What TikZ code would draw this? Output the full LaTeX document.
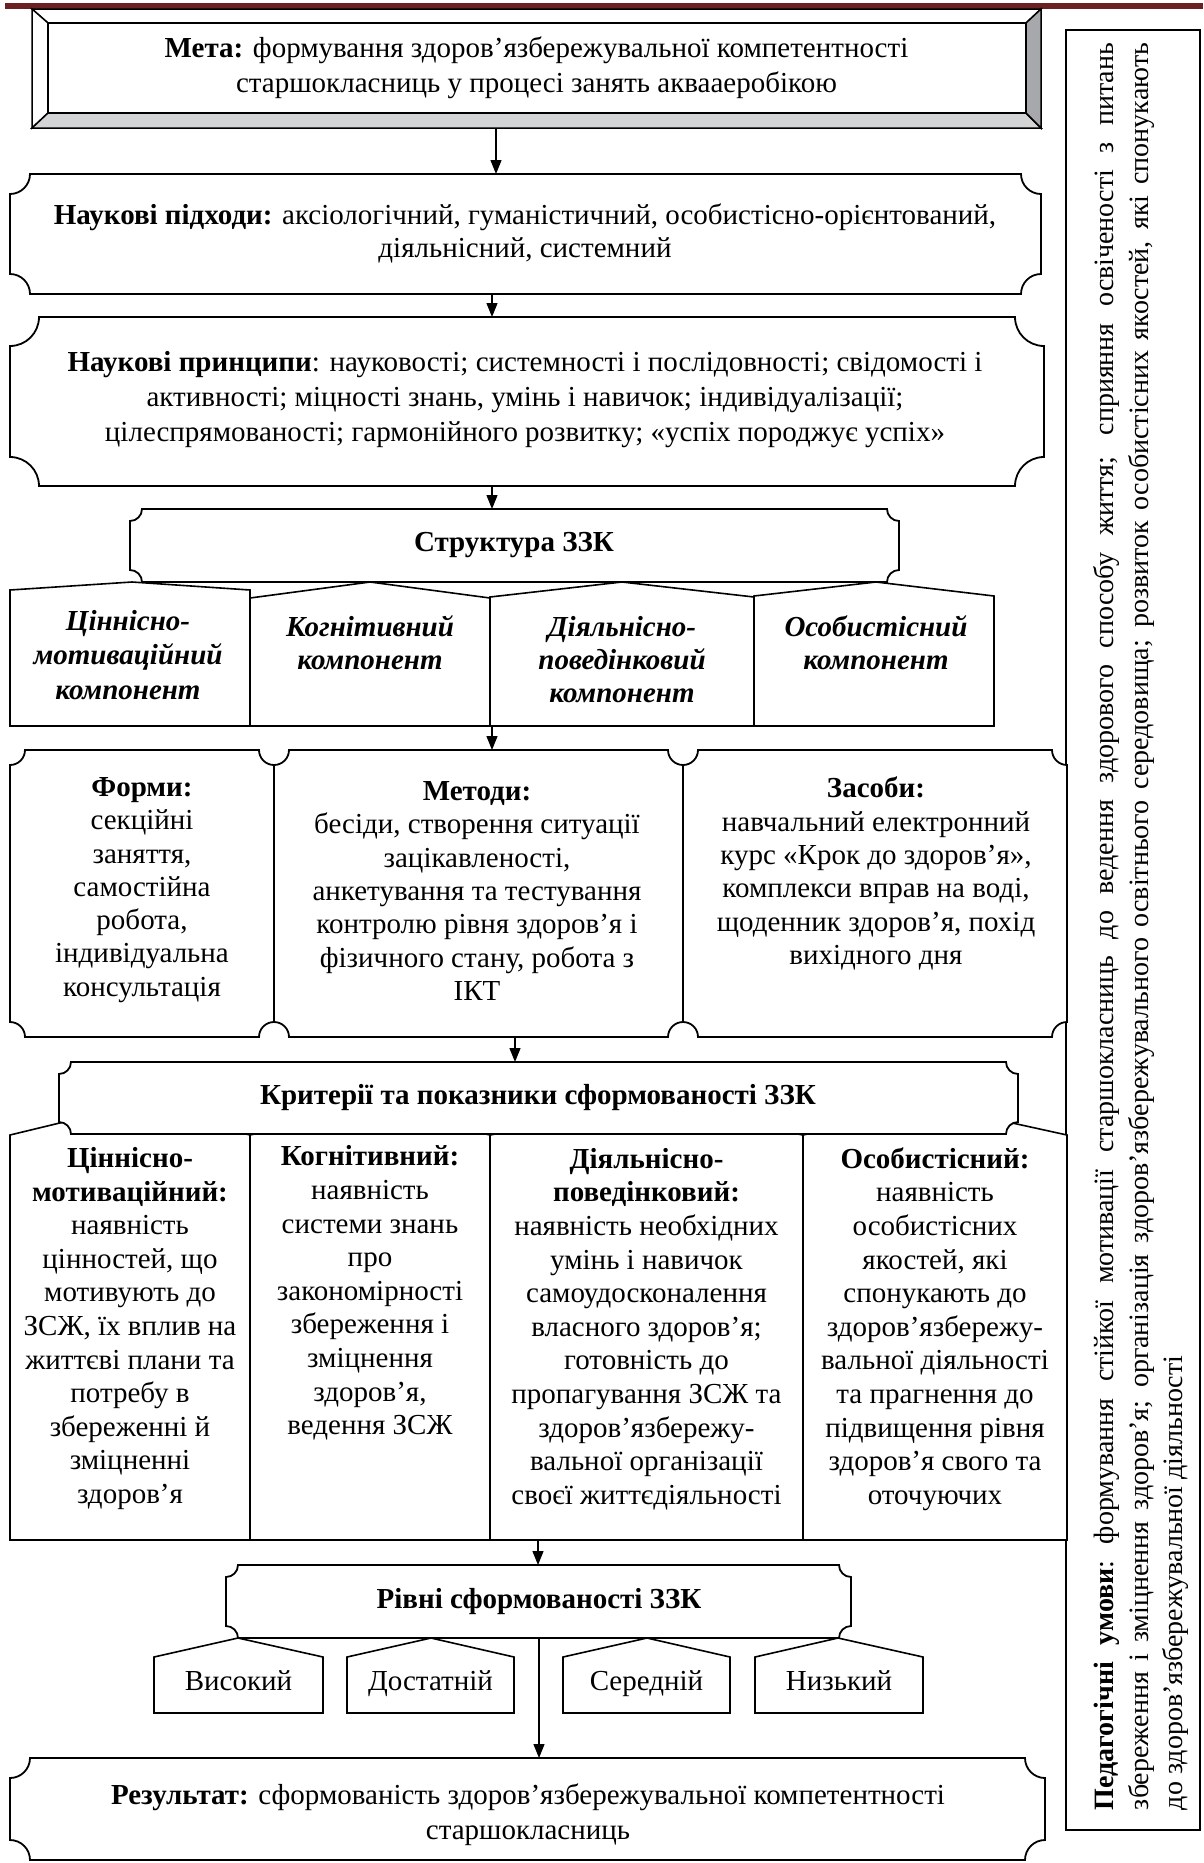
\documentclass[tikz,border=0pt]{standalone}
\usepackage{fontspec}
\setmainfont{Liberation Serif}
\usetikzlibrary{arrows.meta}
\definecolor{barred}{HTML}{6B2022}
\definecolor{bevB}{HTML}{D3D4D6}
\definecolor{bevR}{HTML}{A7A8AB}
\newcommand{\myfs}[1]{\fontsize{29bp}{#1bp}\selectfont}
\newcommand{\panfs}{\fontsize{28bp}{34.5bp}\selectfont}
\newcommand{\jline}[1]{\hbox to 1767bp{\spaceskip=0.25em plus 1fil\relax\xspaceskip=0.25em plus 1fil\relax #1}}
\tikzset{
  box/.style={draw=black, line width=1.8bp, fill=white, line join=miter},
  pentbox/.style={draw=black, line width=1.6bp, fill=white, line join=miter},
  arr/.style={line width=1.3bp, -{Triangle[length=14bp,width=11bp]}},
  txt/.style={align=center, inner sep=0pt},
  geom/.style={inner sep=0pt, outer sep=0pt},
}
% plaque: name x1 y1 x2 y2 r
\newcommand{\plaque}[6]{%
  \draw[box] ({#2+#6},#3) -- ({#4-#6},#3)
    .. controls ({#4-#6},{#3+0.5523*#6}) and ({#4-0.5523*#6},{#3+#6}) .. (#4,{#3+#6})
    -- (#4,{#5-#6})
    .. controls ({#4-0.5523*#6},{#5-#6}) and ({#4-#6},{#5-0.5523*#6}) .. ({#4-#6},#5)
    -- ({#2+#6},#5)
    .. controls ({#2+#6},{#5-0.5523*#6}) and ({#2+0.5523*#6},{#5-#6}) .. (#2,{#5-#6})
    -- (#2,{#3+#6})
    .. controls ({#2+0.5523*#6},{#3+#6}) and ({#2+#6},{#3+0.5523*#6}) .. cycle;
  \node[geom, minimum width={(#4-#2)*1bp}, minimum height={(#5-#3)*1bp}] (#1) at ({(#2+#4)/2},{(#3+#5)/2}) {};
}
% pentagon: name x1 x2 yshoulder ypeak xpeak ybottom
\newcommand{\pent}[7]{%
  \draw[pentbox] (#2,#7) -- (#2,#4) -- (#6,#5) -- (#3,#4) -- (#3,#7) -- cycle;
  \node[geom, minimum width={(#3-#2)*1bp}, minimum height={(#7-#4)*1bp}] (#1) at ({(#2+#3)/2},{(#4+#7)/2}) {};
}
\begin{document}
\begin{tikzpicture}[x=1bp,y=-1bp]
\useasboundingbox (0,0) rectangle (1203,1863);
\fill[white] (0,0) rectangle (1203,1863);
% top bar
\fill[barred] (5,3) rectangle (1203,9);

% ---- Meta (bevel)
\begin{scope}[line width=1.5bp, line join=miter]
\filldraw[fill=white] (32,9) -- (1041,9) -- (1026,23) -- (48,23) -- cycle;
\filldraw[fill=white] (32,9) -- (48,23) -- (48,113) -- (32,128) -- cycle;
\filldraw[fill=bevB] (32,128) -- (48,113) -- (1026,113) -- (1041,128) -- cycle;
\filldraw[fill=bevR] (1041,9) -- (1026,23) -- (1026,113) -- (1041,128) -- cycle;
\draw[fill=white] (48,23) rectangle (1026,113);
\end{scope}
\node[geom, minimum width=1009bp, minimum height=119bp] (meta) at (536.5,68.5) {};
\node[txt, font=\myfs{35}] (metat) at (536.5,67.5)
  {\textbf{Мета:} формування здоров’язбережувальної компетентності\\старшокласниць у процесі занять аквааеробікою};

% ---- right panel
\draw[line width=1.8bp] (1066,30) rectangle (1200,1830);
\node[geom, minimum width=134bp, minimum height=1800bp] (panel) at (1133,930) {};
\node[inner sep=0pt, rotate=90, font=\panfs] (cond) at (1141,926.5)
  {\vbox{\jline{\textbf{Педагогічні умови}: формування стійкої мотивації старшокласниць до ведення здорового способу життя; сприяння освіченості з питань}%
   \jline{збереження і зміцнення здоров’я; організація здоров’язбережувального освітнього середовища; розвиток особистісних якостей, які спонукають}%
   \hbox to 1767bp{до здоров’язбережувальної діяльності\hfil}}};

% ---- approaches
\plaque{pidkh}{10}{174}{1041}{294}{20}
\node[txt, font=\myfs{33.3}] (pidkht) at (525,233.5)
  {\textbf{Наукові підходи:} аксіологічний, гуманістичний, особистісно-орієнтований,\\діяльнісний, системний};

% ---- principles
\plaque{princ}{10}{317}{1044}{486}{29}
\node[txt, font=\myfs{35}] (princt) at (525,400)
  {\textbf{Наукові принципи}: науковості; системності і послідовності; свідомості і\\активності; міцності знань, умінь і навичок; індивідуалізації;\\цілеспрямованості; гармонійного розвитку; «успіх породжує успіх»};

% ---- structure components
\pent{c1}{10}{250}{590}{582}{132}{726}
\pent{c2}{250}{490}{598}{582}{370}{726}
\pent{c3}{490}{754}{597}{582}{622}{726}
\pent{c4}{754}{994}{596}{582}{876}{726}
\plaque{struct}{130}{509}{899}{582}{12}
\node[txt, font=\myfs{34}] (structt) at (514,545) {\textbf{Структура ЗЗК}};
\node[txt, font={\myfs{34.5}\bfseries\itshape}] (c1t) at (128,655) {Ціннісно-\\мотиваційний\\компонент};
\node[txt, font={\myfs{33}\bfseries\itshape}] (c2t) at (370,642.5) {Когнітивний\\компонент};
\node[txt, font={\myfs{33}\bfseries\itshape}] (c3t) at (622,660) {Діяльнісно-\\поведінковий\\компонент};
\node[txt, font={\myfs{33}\bfseries\itshape}] (c4t) at (876,642.5) {Особистісний\\компонент};

% ---- forms / methods / means
\plaque{formy}{10}{750}{274}{1037}{15}
\plaque{metody}{274}{750}{683}{1037}{15}
\plaque{zasoby}{683}{750}{1067}{1037}{15}
\node[txt, font=\myfs{33.3}] (formyt) at (142,890)
  {\textbf{Форми:}\\секційні\\заняття,\\самостійна\\робота,\\індивідуальна\\консультація};
\node[txt, font=\myfs{33.3}] (metodyt) at (477,891)
  {\textbf{Методи:}\\бесіди, створення ситуації\\зацікавленості,\\анкетування та тестування\\контролю рівня здоров’я і\\фізичного стану, робота з\\ІКТ};
\node[txt, font=\myfs{33.3}] (zasobyt) at (876,873.5)
  {\textbf{Засоби:}\\навчальний електронний\\курс «Крок до здоров’я»,\\комплекси вправ на воді,\\щоденник здоров’я, похід\\вихідного дня};

% ---- criteria columns
\pent{k1}{10}{250}{1135}{1106}{130}{1540}
\pent{k2}{250}{490}{1135}{1108}{370}{1540}
\pent{k3}{490}{803}{1135}{1106}{646}{1540}
\pent{k4}{803}{1067}{1135}{1106}{935}{1540}
\plaque{crit}{59}{1062}{1018}{1134}{12}
\node[txt, font=\myfs{34}] (critt) at (538,1098) {\textbf{Критерії та показники сформованості ЗЗК}};
\node[txt, font=\myfs{33.6}] (k1t) at (130,1328.5)
  {\textbf{Ціннісно-}\\\textbf{мотиваційний:}\\наявність\\цінностей, що\\мотивують до\\ЗСЖ, їх вплив на\\життєві плани та\\потребу в\\збереженні й\\зміцненні\\здоров’я};
\node[txt, font=\myfs{33.6}] (k2t) at (370,1293)
  {\textbf{Когнітивний:}\\наявність\\системи знань\\про\\закономірності\\збереження і\\зміцнення\\здоров’я,\\ведення ЗСЖ};
\node[txt, font=\myfs{33.6}] (k3t) at (646.5,1329)
  {\textbf{Діяльнісно-}\\\textbf{поведінковий:}\\наявність необхідних\\умінь і навичок\\самоудосконалення\\власного здоров’я;\\готовність до\\пропагування ЗСЖ та\\здоров’язбережу-\\вальної організації\\своєї життєдіяльності};
\node[txt, font=\myfs{33.6}] (k4t) at (935,1329)
  {\textbf{Особистісний:}\\наявність\\особистісних\\якостей, які\\спонукають до\\здоров’язбережу-\\вальної діяльності\\та прагнення до\\підвищення рівня\\здоров’я свого та\\оточуючих};

% ---- levels
\pent{l1}{154}{323}{1657}{1638}{238}{1713}
\pent{l2}{347}{514}{1657}{1638}{431}{1713}
\pent{l3}{563}{730}{1657}{1638}{647}{1713}
\pent{l4}{755}{923}{1657}{1638}{838}{1713}
\plaque{rivni}{226}{1565}{851}{1638}{12}
\node[txt, font=\myfs{34}] (rivnit) at (539,1602) {\textbf{Рівні сформованості ЗЗК}};
\node[txt, font=\myfs{34}, anchor=base] (l1t) at (238.5,1690) {Високий};
\node[txt, font=\myfs{34}, anchor=base] (l2t) at (430.5,1690) {Достатній};
\node[txt, font=\myfs{34}, anchor=base] (l3t) at (646.5,1690) {Середній};
\node[txt, font=\myfs{34}, anchor=base] (l4t) at (839,1690) {Низький};

% ---- result
\plaque{result}{10}{1758}{1045}{1860}{20}
\node[txt, font=\myfs{35}] (resultt) at (528,1814.5)
  {\textbf{Результат:} сформованість здоров’язбережувальної компетентності\\старшокласниць};

% ---- arrows
\coordinate (ax1) at (496,0);
\coordinate (ax2) at (492,0);
\coordinate (ax5) at (515,0);
\coordinate (ax6) at (538,0);
\coordinate (ax7) at (539,0);
\draw[arr] (meta.south -| ax1) -- (pidkh.north -| ax1);
\draw[arr] (pidkh.south -| ax2) -- (princ.north -| ax2);
\draw[arr] (princ.south -| ax2) -- (struct.north -| ax2);
\draw[arr] (c3.south -| ax2) -- (metody.north -| ax2);
\draw[arr] (metody.south -| ax5) -- (crit.north -| ax5);
\draw[arr] (k3.south -| ax6) -- (rivni.north -| ax6);
\draw[arr] (rivni.south -| ax7) -- (result.north -| ax7);
\end{tikzpicture}
\end{document}
